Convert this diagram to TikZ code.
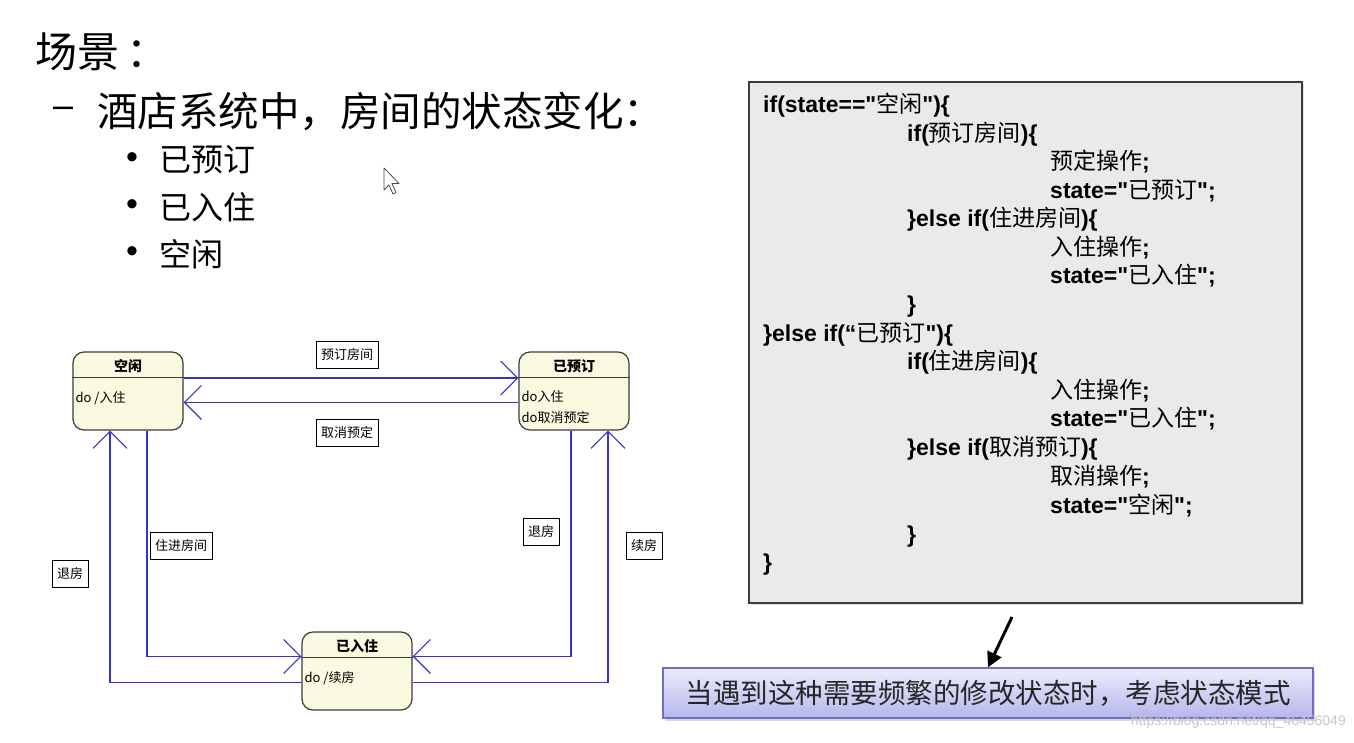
\documentclass[tikz,border=0pt]{standalone}
\usepackage{fontspec}
\setmainfont{Liberation Sans}[Ligatures=TeXOff]
\newfontfamily\cjk{Noto Sans CJK SC}
\usetikzlibrary{arrows.meta,shadows}

\definecolor{transblue}{RGB}{52,52,200}
\definecolor{stateyellow}{RGB}{250,250,224}
\definecolor{stateedge}{RGB}{60,60,60}
\definecolor{codegray}{RGB}{234,234,234}
\definecolor{tiptop}{RGB}{236,236,252}
\definecolor{tipbottom}{RGB}{182,182,236}
\definecolor{tipedge}{RGB}{112,112,192}

\newcommand{\zh}[1]{{\cjk\mdseries #1}}
\newcommand{\dq}{\symbol{34}}

\begin{document}
\begin{tikzpicture}[x=1pt,y=-1pt,
    state/.style={draw=stateedge, line width=1.2pt, rounded corners=11pt, fill=stateyellow,
        minimum width=110pt, minimum height=78pt, inner sep=0pt},
    sttitle/.style={font=\cjk\bfseries\fontsize{14}{16}\selectfont, inner sep=0pt},
    stbody/.style={font=\cjk\fontsize{13}{21}\selectfont, align=left, anchor=north west, inner sep=0pt},
    trans/.style={transblue, line width=1.3pt, -{Straight Barb[length=17pt,width=34pt,line width=1.1pt]}},
    evt/.style={draw=black, line width=1pt, fill=white, font=\cjk\fontsize{13}{15}\selectfont,
        inner xsep=5pt, inner ysep=3pt, minimum height=27pt},
    code/.style={anchor=base west, inner sep=0pt, font=\bfseries\fontsize{23}{28}\selectfont},
    heading/.style={anchor=west, inner sep=0pt, font=\cjk\fontsize{42}{46}\selectfont},
    sub/.style={anchor=west, inner sep=0pt, font=\cjk\fontsize{40.5}{44}\selectfont},
    item/.style={anchor=west, inner sep=0pt, font=\cjk\fontsize{32}{36}\selectfont}
]
    \useasboundingbox (0,0) rectangle (1354,742);
    \fill[white] (0,0) rectangle (1354,742);

    % Heading and list
    \node[heading] (scene) at (35,52) {场景\,：};
    \node[anchor=west, inner sep=0pt, font=\fontsize{36}{40}\selectfont] (dash) at (53,112) {–};
    \node[sub] (topic) at (97,111) {酒店系统中，房间的状态变化：};
    \foreach \t [count=\i] in {已预订,已入住,空闲} {
        \node[anchor=center, inner sep=0pt, font=\fontsize{34}{38}\selectfont] (dot\i) at (132,{114+47*\i}) {•};
        \node[item] (item\i) at (159,{113+47*\i}) {\t};
    }

    % mouse pointer
    \draw[fill=white, draw=gray!60!black, line width=0.8pt, line join=round]
        (384,168) -- ++(0,22) -- ++(5,-5) -- ++(4,9) -- ++(3,-1.5) -- ++(-4,-9) -- ++(7,0) -- cycle;

    % States
    \node[state] (free) at (128,391) {};
    \node[state] (booked) at (574,391) {};
    \node[state] (checkin) at (357,671) {};

    \foreach \s/\n in {free/空闲, booked/已预订, checkin/已入住} {
        \draw[stateedge, line width=1.2pt] ([yshift=-26pt]\s.north west) -- ([yshift=-26pt]\s.north east);
        \node[sttitle] (\s title) at ([yshift=-15pt]\s.north) {\n};
    }
    \node[stbody] (free body) at ([xshift=3pt,yshift=-40pt]free.north west) {do /入住};
    \node[stbody] (booked body) at ([xshift=3pt,yshift=-39pt]booked.north west) {do入住\\do取消预定};
    \node[stbody] (checkin body) at ([xshift=3pt,yshift=-40pt]checkin.north west) {do /续房};

    % Transitions
    \draw[trans] ([yshift=-26.5pt]free.north east) -- ([yshift=-26.5pt]booked.north west);
    \draw[trans] ([yshift=-51pt]booked.north west) -- ([yshift=-51pt]free.north east);
    \draw[trans] ([xshift=19pt]free.south) |- ([yshift=-25pt]checkin.north west);
    \draw[trans] ([yshift=-51pt]checkin.north west) -| ([xshift=-18pt]free.south);
    \draw[trans] ([xshift=-3pt]booked.south) |- ([yshift=-25pt]checkin.north east);
    \draw[trans] ([yshift=-51pt]checkin.north east) -| ([xshift=34pt]booked.south);

    \node[evt] (book) at (347,355) {预订房间};
    \node[evt] (cancel) at (347,433) {取消预定};
    \node[evt] (enter) at (181,546) {住进房间};
    \node[evt] (leave) at (70,574) {退房};
    \node[evt] (leave2) at (541,532) {退房};
    \node[evt] (renew) at (644,546) {续房};

    % Code box
    \node[draw=stateedge, line width=1.5pt, fill=codegray, minimum width=553pt, minimum height=521pt,
        drop shadow={opacity=0.25, shadow xshift=2pt, shadow yshift=-2pt}] (codebox) at (1025.5,342.5) {};
    \node[code] (c1) at (763,112) {if(state==\dq\zh{空闲}\dq)\{};
    \node[code] (c2) at (907,141) {if(\zh{预订房间})\{};
    \node[code] (c3) at (1050,169) {\zh{预定操作};};
    \node[code] (c4) at (1050,198) {state=\dq\zh{已预订}\dq;};
    \node[code] (c5) at (907,226) {\}else if(\zh{住进房间})\{};
    \node[code] (c6) at (1050,255) {\zh{入住操作};};
    \node[code] (c7) at (1050,283) {state=\dq\zh{已入住}\dq;};
    \node[code] (c8) at (907,312) {\}};
    \node[code] (c9) at (763,341) {\}else if(“\zh{已预订}\dq)\{};
    \node[code] (c10) at (907,369) {if(\zh{住进房间})\{};
    \node[code] (c11) at (1050,398) {\zh{入住操作};};
    \node[code] (c12) at (1050,426) {state=\dq\zh{已入住}\dq;};
    \node[code] (c13) at (907,455) {\}else if(\zh{取消预订})\{};
    \node[code] (c14) at (1050,484) {\zh{取消操作};};
    \node[code] (c15) at (1050,513) {state=\dq\zh{空闲}\dq;};
    \node[code] (c16) at (907,542) {\}};
    \node[code] (c17) at (763,570) {\}};

    % Hint
    \node[draw=tipedge, line width=1.2pt, top color=tiptop, bottom color=tipbottom,
        minimum width=650pt, minimum height=50pt, inner sep=0pt,
        font=\cjk\fontsize{27.5}{30}\selectfont, text=black!85,
        drop shadow={opacity=0.3, shadow xshift=2pt, shadow yshift=-3pt}] (hint) at (988,693)
        {当遇到这种需要频繁的修改状态时，考虑状态模式};
    \coordinate (hintfrom) at (1012,617);
    \draw[line width=3pt, -{Triangle[length=15pt,width=15pt]}] (hintfrom) -- (hint.north);

    \node[anchor=east, inner sep=0pt, text=black!22, font=\fontsize{14}{16}\selectfont] (mark) at (1346,722)
        {https://blog.csdn.net/qq\_46456049};
\end{tikzpicture}
\end{document}
